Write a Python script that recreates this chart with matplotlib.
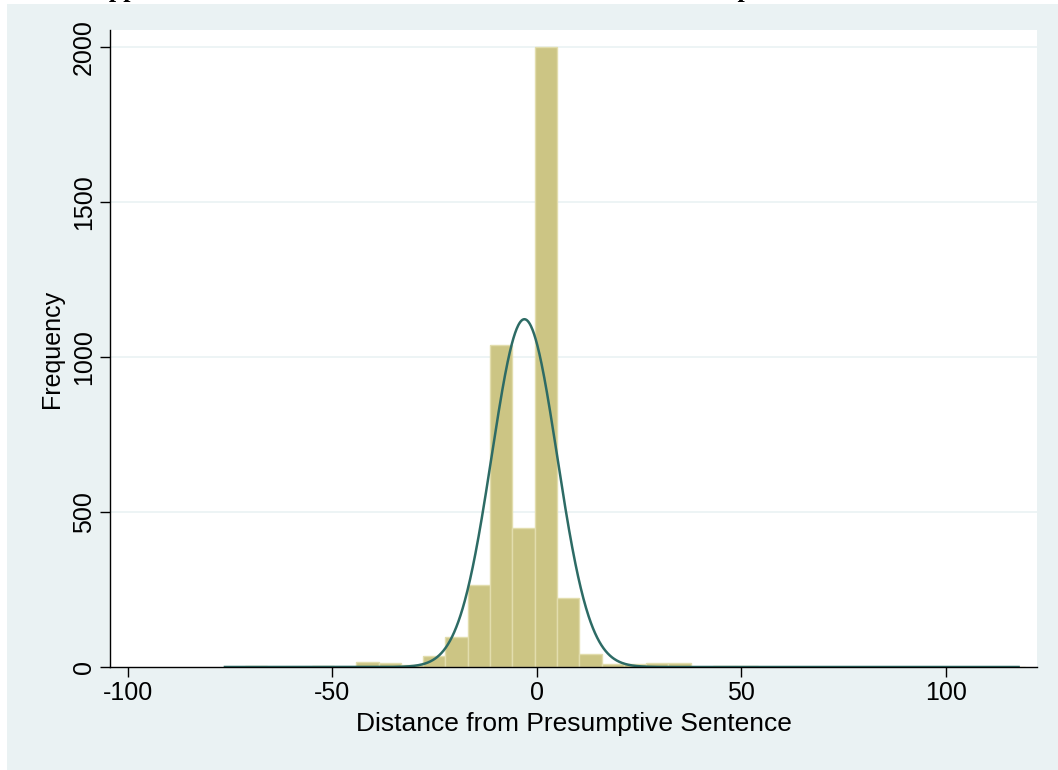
import numpy as np
import matplotlib
matplotlib.use("Agg")
import matplotlib.pyplot as plt
from matplotlib.patches import Rectangle

plt.rcParams["axes.unicode_minus"] = False

# ---- data ----
bin_start = -76.8
bin_width = 5.45
counts = [1, 3, 1, 1, 3, 1, 15, 14, 5, 35, 98, 264, 1039, 447, 2000, 224, 41,
          10, 10, 12, 12, 1, 3, 2, 1, 1, 1, 0, 1, 1, 0, 1, 1, 1, 1, 1]
norm_mean = -3.0
norm_sd = 8.0
norm_peak = 1122
curve_min, curve_max = -76.2, 117.8
xticks = [-100, -50, 0, 50, 100]
yticks = [0, 500, 1000, 1500, 2000]
xlabel = "Distance from Presumptive Sentence"
ylabel = "Frequency"
title = "Appendix A: Distribution of the Distance from the Presumptive Sentence"

W, H = 1058, 770
fig = plt.figure(figsize=(W / 100, H / 100), dpi=100)
fig.patch.set_facecolor("white")
bg = "#EAF2F3"
fig.patches.append(Rectangle((7 / W, 0), 1 - 7 / W, (H - 4) / H,
                             transform=fig.transFigure, facecolor=bg,
                             edgecolor="none", zorder=-10))

ax = fig.add_axes([110 / W, (H - 667) / H, (1037 - 110) / W, (667 - 30) / H])
ax.set_facecolor("white")

edges = bin_start + bin_width * np.arange(len(counts) + 1)
ax.bar(edges[:-1], counts, width=bin_width, align="edge",
       color="#CCC584", edgecolor="#E2DDAD", linewidth=1.0, zorder=2)

xs = np.linspace(curve_min, curve_max, 1500)
ys = norm_peak * np.exp(-0.5 * ((xs - norm_mean) / norm_sd) ** 2)
ax.plot(xs, ys, color="#2D6B65", linewidth=1.8, zorder=3)

ax.set_xlim(-104.3, 122.3)
ax.set_ylim(0, 2055)
ax.set_xticks(xticks)
ax.set_yticks(yticks)
ax.set_yticklabels([str(v) for v in yticks], rotation=90, va="center")
for yv in yticks[1:]:
    ax.axhline(yv, color=bg, linewidth=1.2, zorder=1)

for s in ["top", "right"]:
    ax.spines[s].set_visible(False)
for s in ["left", "bottom"]:
    ax.spines[s].set_linewidth(1.0)
    ax.spines[s].set_color("black")
    ax.spines[s].set_zorder(4)

font = "Liberation Sans"
ax.tick_params(axis="both", direction="out", length=7, width=1.0,
               colors="black", labelsize=18)
ax.tick_params(axis="y", pad=3)
ax.tick_params(axis="x", pad=3)
for lab in ax.get_xticklabels() + ax.get_yticklabels():
    lab.set_fontfamily(font)

ax.set_xlabel(xlabel, fontsize=19, family=font, labelpad=5)
ax.set_ylabel(ylabel, fontsize=18, family=font, labelpad=6)

fig.text(90 / W, 1 + 2.5 / H, title, family="Liberation Serif",
         weight="bold", fontsize=18.7, ha="left", va="baseline")

fig.savefig("out.png", dpi=100, facecolor=fig.get_facecolor())
